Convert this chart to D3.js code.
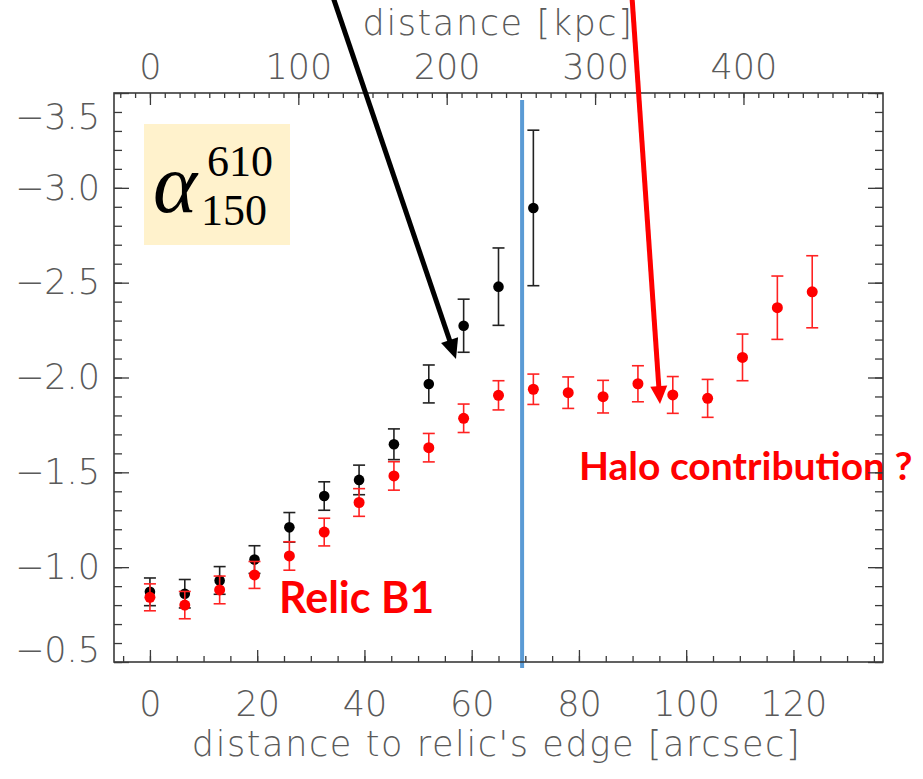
<!DOCTYPE html>
<html><head><meta charset="utf-8">
<script src="https://cdn.jsdelivr.net/npm/d3@7"></script>
<style>body{margin:0;background:#fff;} svg{display:block;}</style>
</head><body>
<script>
// ---- data ----
const distBlack = [0, 6.5, 13, 19.5, 26, 32.5, 39, 45.5, 52, 58.5, 65, 71.5];
const alphaBlack = [-0.87, -0.86, -0.93, -1.04, -1.21, -1.375, -1.46, -1.648, -1.966, -2.273, -2.479, -2.894];
const errBlack = [0.073, 0.075, 0.073, 0.073, 0.078, 0.075, 0.078, 0.081, 0.10, 0.14, 0.204, 0.41];

const distRed = [0, 6.5, 13, 19.5, 26, 32.5, 39, 45.5, 52, 58.5, 65, 71.5, 78, 84.5, 91, 97.5, 104, 110.5, 117, 123.5];
const alphaRed = [-0.841, -0.80, -0.88, -0.959, -1.059, -1.185, -1.341, -1.481, -1.63, -1.785, -1.906, -1.938, -1.92, -1.899, -1.967, -1.908, -1.89, -2.106, -2.368, -2.452];
const errRed = [0.071, 0.072, 0.073, 0.071, 0.075, 0.073, 0.073, 0.075, 0.075, 0.075, 0.077, 0.08, 0.083, 0.086, 0.095, 0.097, 0.10, 0.123, 0.167, 0.19];

const yTicks = [-3.5, -3.0, -2.5, -2.0, -1.5, -1.0, -0.5];
const yTickLabels = ["\u22123.5", "\u22123.0", "\u22122.5", "\u22122.0", "\u22121.5", "\u22121.0", "\u22120.5"];
const xTicks = [0, 20, 40, 60, 80, 100, 120];
const kpcTicks = [0, 100, 200, 300, 400];
const kpcPerArcsec = 3.614;
const relicEdge = 69.4;

// ---- layout ----
const W = 923, H = 779;
const L = 114, R = 883, T = 93, B = 662;
const svg = d3.select("body").append("svg").attr("width", W).attr("height", H);

const x = d3.scaleLinear().domain([-6.7, 136.7]).range([L, R]);
const xk = d3.scaleLinear().domain([-6.7 * kpcPerArcsec, 136.7 * kpcPerArcsec]).range([L, R]);
const y = d3.scaleLinear().domain([-0.5, -3.5]).range([B, T]);

const axisFont = "'DejaVu Sans', sans-serif";
const axisColor = "#5a5a5a";
const frameColor = "#3a3a3a";

// alpha label box
svg.append("rect").attr("x", 144).attr("y", 124).attr("width", 146).attr("height", 121).attr("fill", "#fff2cc");
const at = svg.append("text").attr("font-family", "'Liberation Serif', 'Times New Roman', serif").attr("fill", "#000");
at.append("tspan").attr("x", 153).attr("y", 212).attr("font-style", "italic").attr("font-size", 84).text("\u03b1");
at.append("tspan").attr("x", 207).attr("y", 176).attr("font-size", 44).text("610");
at.append("tspan").attr("x", 201).attr("y", 225).attr("font-size", 44).text("150");

// blue relic edge line
svg.append("line").attr("x1", x(relicEdge)).attr("x2", x(relicEdge)).attr("y1", 100).attr("y2", 668)
  .attr("stroke", "#5b9bd5").attr("stroke-width", 4);

// error bars + points
function series(xs, ys, es, color, barColor, r) {
  const g = svg.append("g");
  const d = xs.map((v, i) => ({x: v, y: ys[i], e: es[i]}));
  g.selectAll("line.v").data(d).join("line").attr("class", "v")
    .attr("x1", p => x(p.x)).attr("x2", p => x(p.x))
    .attr("y1", p => y(p.y - p.e)).attr("y2", p => y(p.y + p.e))
    .attr("stroke", barColor).attr("stroke-width", 1.6);
  g.selectAll("line.c1").data(d).join("line").attr("class", "c1")
    .attr("x1", p => x(p.x) - 6).attr("x2", p => x(p.x) + 6)
    .attr("y1", p => y(p.y - p.e)).attr("y2", p => y(p.y - p.e))
    .attr("stroke", barColor).attr("stroke-width", 1.6);
  g.selectAll("line.c2").data(d).join("line").attr("class", "c2")
    .attr("x1", p => x(p.x) - 6).attr("x2", p => x(p.x) + 6)
    .attr("y1", p => y(p.y + p.e)).attr("y2", p => y(p.y + p.e))
    .attr("stroke", barColor).attr("stroke-width", 1.6);
  g.selectAll("circle").data(d).join("circle")
    .attr("cx", p => x(p.x)).attr("cy", p => y(p.y)).attr("r", r).attr("fill", color);
}
series(distBlack, alphaBlack, errBlack, "#000", "#222", 5.3);
series(distRed, alphaRed, errRed, "#ff0000", "#f22", 5.5);

// annotation texts
svg.append("text").attr("x", 279).attr("y", 613).attr("font-family", "Lato, 'Open Sans', sans-serif")
  .attr("font-weight", "bold").attr("font-size", 43).attr("fill", "#ff0000").text("Relic B1");
svg.append("text").attr("x", 579).attr("y", 480).attr("font-family", "Lato, 'Open Sans', sans-serif")
  .attr("font-weight", "bold").attr("font-size", 39).attr("fill", "#ff0000").text("Halo contribution ?");

// ---- axes ----
function styleAxis(g) {
  g.select(".domain").remove();
  g.selectAll(".tick line").attr("stroke", frameColor).attr("stroke-width", 1.3);
  g.selectAll("text").attr("font-family", axisFont).attr("font-weight", 200).attr("font-size", 35).attr("fill", axisColor);
}
const xMinor = d3.range(-5, 136, 5);
const kMinor = d3.range(-20, 494, 10);
const yMinor = d3.range(-3.5, -0.49, 0.1);

// bottom (ticks inward)
svg.append("g").attr("transform", `translate(0,${B})`).call(d3.axisTop(x).tickValues(xMinor).tickSize(6).tickFormat("")).call(styleAxis);
svg.append("g").attr("transform", `translate(0,${B})`).call(d3.axisTop(x).tickValues(xTicks).tickSize(12).tickFormat("")).call(styleAxis);
svg.append("g").attr("transform", `translate(0,${B})`).call(d3.axisBottom(x).tickValues(xTicks).tickSize(0).tickPadding(29).tickFormat(d3.format("d"))).call(styleAxis);
// top
svg.append("g").attr("transform", `translate(0,${T})`).call(d3.axisBottom(xk).tickValues(kMinor).tickSize(5).tickFormat("")).call(styleAxis);
svg.append("g").attr("transform", `translate(0,${T})`).call(d3.axisBottom(xk).tickValues(kpcTicks).tickSize(12).tickFormat("")).call(styleAxis);
svg.append("g").attr("transform", `translate(0,${T})`).call(d3.axisTop(xk).tickValues(kpcTicks).tickSize(0).tickPadding(14).tickFormat(d3.format("d"))).call(styleAxis);
// left
svg.append("g").attr("transform", `translate(${L},0)`).call(d3.axisRight(y).tickValues(yMinor).tickSize(8).tickFormat("")).call(styleAxis);
svg.append("g").attr("transform", `translate(${L},0)`).call(d3.axisRight(y).tickValues(yTicks).tickSize(15).tickFormat("")).call(styleAxis);
const yl = svg.append("g").attr("transform", `translate(${L},0)`)
  .call(d3.axisLeft(y).tickValues(yTicks).tickSize(0).tickPadding(14).tickFormat((d, i) => yTickLabels[i])).call(styleAxis);
yl.selectAll(".tick text").attr("dy", d => d === -3.5 ? "1.0em" : (d === -0.5 ? "-0.02em" : "0.32em"));
// right
svg.append("g").attr("transform", `translate(${R},0)`).call(d3.axisLeft(y).tickValues(yMinor).tickSize(8).tickFormat("")).call(styleAxis);
svg.append("g").attr("transform", `translate(${R},0)`).call(d3.axisLeft(y).tickValues(yTicks).tickSize(15).tickFormat("")).call(styleAxis);

// frame
svg.append("rect").attr("x", L).attr("y", T).attr("width", R - L).attr("height", B - T)
  .attr("fill", "none").attr("stroke", frameColor).attr("stroke-width", 1.6);

// axis titles
svg.append("text").attr("x", (L + R) / 2 - 2).attr("y", 756).attr("text-anchor", "middle")
  .attr("font-family", axisFont).attr("font-weight", 200).attr("font-size", 35).attr("letter-spacing", 1.6).attr("fill", axisColor)
  .text("distance to relic's edge [arcsec]");
svg.append("text").attr("x", 498).attr("y", 35).attr("text-anchor", "middle")
  .attr("font-family", axisFont).attr("font-weight", 200).attr("font-size", 35).attr("letter-spacing", 1.6).attr("fill", axisColor)
  .text("distance [kpc]");

// arrows
function arrow(x1, y1, x2, y2, color, w, hl, hw) {
  const dx = x2 - x1, dy = y2 - y1, len = Math.hypot(dx, dy);
  const ux = dx / len, uy = dy / len, nx = -uy, ny = ux;
  const bx = x2 - ux * hl, by = y2 - uy * hl;
  svg.append("line").attr("x1", x1).attr("y1", y1).attr("x2", bx + ux * 2).attr("y2", by + uy * 2)
    .attr("stroke", color).attr("stroke-width", w);
  svg.append("path").attr("d", `M${x2},${y2}L${bx + nx * hw},${by + ny * hw}L${bx - nx * hw},${by - ny * hw}Z`).attr("fill", color);
}
arrow(333, -3, 456, 359, "#000", 5, 20, 9);
arrow(632, -3, 660, 404, "#ff0000", 5, 18, 8.5);
</script>
</body></html>
